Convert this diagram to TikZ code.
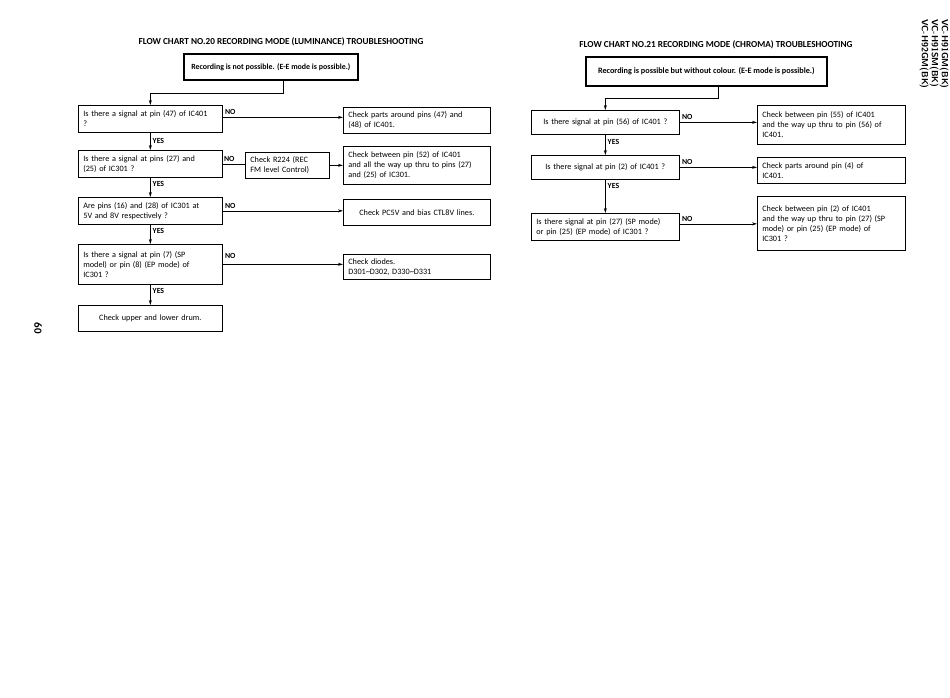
\documentclass[tikz,border=0pt]{standalone}
\usepackage{fontspec}
\setmainfont{Carlito}
\usetikzlibrary{arrows.meta,calc}
\begin{document}
\begin{tikzpicture}[x=1pt,y=-1pt,
  box/.style={draw, line width=0.7pt, inner xsep=5pt, inner ysep=2pt, align=left, anchor=north west,
     font=\fontsize{8.2}{10}\selectfont},
  cbox/.style={box, align=center},
  topbox/.style={draw, line width=1.6pt, anchor=north west, align=center, inner sep=2pt,
     font=\bfseries\fontsize{8.2}{10}\selectfont},
  arr/.style={line width=0.7pt, -{Stealth[length=5pt,width=3pt]}},
  ln/.style={line width=0.7pt},
  lbl/.style={font=\bfseries\fontsize{7.8}{9}\selectfont, inner sep=2pt},
  ttl/.style={font=\bfseries\fontsize{9.2}{10}\selectfont}]
\useasboundingbox (0,0) rectangle (950,698);
\fill[white] (0,0) rectangle (950,698);

% ---------- Chart 20 ----------
\node[ttl] (title20) at (281,42) {FLOW CHART NO.20 RECORDING MODE (LUMINANCE) TROUBLESHOOTING};
\node[topbox, minimum width=174pt, minimum height=26pt, font=\bfseries\fontsize{7.9}{10}\selectfont] (t20) at (183,53) {Recording is not possible. (E-E mode is possible.)};

\node[box, minimum width=144pt, minimum height=27pt, text width=134pt] (a1) at (78,105) {Is there a signal at pin (47) of IC401\\?};
\node[box, minimum width=147pt, minimum height=26pt, text width=137pt] (b1) at (343,107) {Check parts around pins (47) and\\(48) of IC401.};

\node[box, minimum width=144pt, minimum height=27pt, text width=134pt] (a2) at (78,150) {Is there a signal at pins (27) and\\(25) of IC301 ?};
\node[box, minimum width=84pt, minimum height=26pt, text width=74pt] (c2) at (245,152) {Check R224 (REC\\FM level Control)};
\node[box, minimum width=147pt, minimum height=38pt, text width=137pt] (b2) at (343,146) {Check between pin (52) of IC401\\and all the way up thru to pins (27)\\and (25) of IC301.};

\node[box, minimum width=144pt, minimum height=27pt, text width=134pt] (a3) at (78,197) {Are pins (16) and (28) of IC301 at\\5V and 8V respectively ?};
\node[cbox, minimum width=147pt, minimum height=26pt, text width=137pt] (b3) at (343,199) {Check PC5V and bias CTL8V lines.};

\node[box, minimum width=144pt, minimum height=40pt, text width=134pt] (a4) at (78,244) {Is there a signal at pin (7) (SP\\model) or pin (8) (EP mode) of\\IC301 ?};
\node[box, minimum width=147pt, minimum height=25pt, text width=137pt] (b4) at (343,254) {Check diodes.\\D301\textasciitilde D302, D330\textasciitilde D331};

\node[cbox, minimum width=144pt, minimum height=26pt, text width=134pt] (a5) at (78,305) {Check upper and lower drum.};

\draw[arr] ([xshift=13pt]t20.south) -- ++(0,13) -| (a1.north);
\draw[arr] (a1.south) -- node[lbl, right, pos=0.45] {YES} (a2.north);
\draw[arr] (a2.south) -- node[lbl, right, pos=0.35] {YES} (a3.north);
\draw[arr] (a3.south) -- node[lbl, right, pos=0.3] {YES} (a4.north);
\draw[arr] (a4.south) -- node[lbl, right, pos=0.3] {YES} (a5.north);

\draw[arr] ([yshift=1.5pt]a1.east) -- node[lbl, above right, pos=0] {NO} ([yshift=1.5pt]a1.east -| b1.west);
\draw[ln] (a2.east) -- node[lbl, above right, pos=0, xshift=-1pt] {NO} (a2.east -| c2.west);
\draw[arr] (c2.east) -- (c2.east -| b2.west);
\draw[arr] (a3.east) -- node[lbl, above right, pos=0] {NO} (a3.east -| b3.west);
\draw[arr] (a4.east) -- node[lbl, above right, pos=0, yshift=3pt] {NO} (a4.east -| b4.west);

% ---------- Chart 21 ----------
\node[ttl] (title21) at (716,45) {FLOW CHART NO.21 RECORDING MODE (CHROMA) TROUBLESHOOTING};
\node[topbox, minimum width=241pt, minimum height=29pt] (t21) at (585,56) {Recording is possible but without colour. (E-E mode is possible.)};

\node[cbox, minimum width=148pt, minimum height=24pt, text width=138pt] (p1) at (531,110) {Is there signal at pin (56) of IC401 ?};
\node[box, minimum width=148pt, minimum height=39pt, text width=138pt] (q1) at (757,105) {Check between pin (55) of IC401\\and the way up thru to pin (56) of\\IC401.};

\node[cbox, minimum width=148pt, minimum height=24pt, text width=138pt] (p2) at (531,155) {Is there signal at pin (2) of IC401 ?};
\node[box, minimum width=148pt, minimum height=26pt, text width=138pt] (q2) at (757,157) {Check parts around pin (4) of\\IC401.};

\node[box, minimum width=148pt, minimum height=27pt, text width=138pt] (p3) at (531,213) {Is there signal at pin (27) (SP mode)\\or pin (25) (EP mode) of IC301 ?};
\node[box, minimum width=148pt, minimum height=54pt, text width=138pt] (q3) at (757,196) {Check between pin (2) of IC401\\and the way up thru to pin (27) (SP\\mode) or pin (25) (EP mode) of\\IC301 ?};

\draw[arr] ([xshift=12.5pt]t21.south) -- ++(0,12) -| (p1.north);
\draw[arr] (p1.south) -- node[lbl, right, pos=0.35] {YES} (p2.north);
\draw[arr] (p2.south) -- node[lbl, right, pos=0.2] {YES} (p3.north);
\draw[arr] (p1.east) -- node[lbl, above right, pos=0] {NO} (p1.east -| q1.west);
\draw[arr] (p2.east) -- node[lbl, above right, pos=0] {NO} (p2.east -| q2.west);
\draw[arr] ([yshift=3pt]p3.east) -- node[lbl, above right, pos=0] {NO} ([yshift=3pt]p3.east -| q3.west);

% ---------- margins ----------
\node[rotate=-90, align=left, font=\sffamily\bfseries\fontsize{9}{7.6}\selectfont, inner sep=0pt] (model) at (934,54) {VC-H91GM(BK)\\VC-H91SM(BK)\\VC-H92GM(BK)};
\node[rotate=-90, font=\bfseries\fontsize{11}{12}\selectfont, inner sep=0pt] (page) at (38,328) {60};
\end{tikzpicture}
\end{document}
